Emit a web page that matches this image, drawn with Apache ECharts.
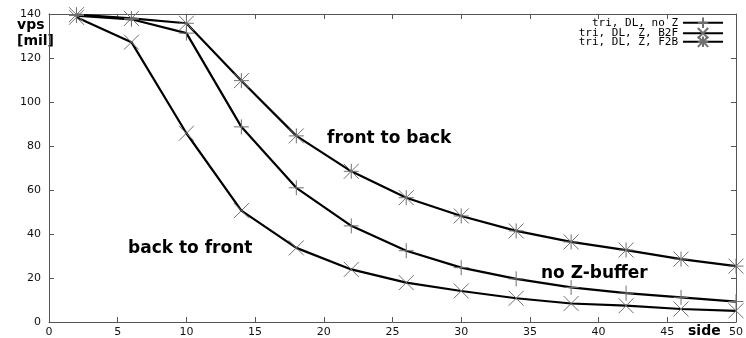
<!DOCTYPE html>
<html><head><meta charset="utf-8">
<script src="https://cdn.jsdelivr.net/npm/echarts@6/dist/echarts.min.js"></script>
<style>html,body{margin:0;padding:0;background:#fff}#c{width:746px;height:338px}</style>
</head><body><div id="c"></div>
<script>
const sides = [2, 6, 10, 14, 18, 22, 26, 30, 34, 38, 42, 46, 50];
const noZ = [139.3, 137.6, 131.3, 88.7, 61.0, 43.7, 32.4, 24.7, 19.6, 15.7, 13.1, 11.2, 9.3];
const b2f = [138.5, 127.2, 85.8, 50.6, 33.7, 23.9, 17.9, 14.1, 10.8, 8.4, 7.4, 5.9, 5.1];
const f2b = [139.7, 138.0, 135.8, 109.7, 84.6, 68.5, 56.5, 48.2, 41.4, 36.4, 32.7, 28.6, 25.4];
const seriesNames = ['tri, DL, no Z', 'tri, DL, Z, B2F', 'tri, DL, Z, F2B'];
const xTicks = [0, 5, 10, 15, 20, 25, 30, 35, 40, 45, 50];
const yTicks = [0, 20, 40, 60, 80, 100, 120, 140];

const PLUS = 'path://M0,5L10,5M5,0L5,10';
const CROSS = 'path://M0,0L10,10M10,0L0,10';
const STAR = 'path://M0,5L10,5M5,0L5,10M0,0L10,10M10,0L0,10';

const chart = echarts.init(document.getElementById('c'), null, {renderer: 'canvas'});
const tickFont = {fontFamily: 'DejaVu Sans', fontSize: 11, color: '#111'};
function mk(name, data, sym) {
  return {
    name: name, type: 'line', data: sides.map((s, i) => [s, data[i]]),
    symbol: sym, symbolSize: 15, showSymbol: true,
    lineStyle: {color: '#000', width: 2.2},
    itemStyle: {color: 'none', borderColor: '#707070', borderWidth: 1},
    emphasis: {disabled: true}, animation: false, z: 2
  };
}
function leg(i, top) {
  return {
    orient: 'vertical', right: 22, top: top, align: 'right', padding: 0,
    itemWidth: 40, itemHeight: 13, itemGap: 0, selectedMode: false,
    textStyle: {fontFamily: 'DejaVu Sans Mono', fontSize: 11, color: '#000', lineHeight: 10, padding: [0, 0, 0, 0]},
    data: [seriesNames[i]]
  };
}
const BOLD = '"DejaVu Sans"';
chart.setOption({
  animation: false,
  grid: {left: 49, right: 8, top: 14, bottom: 14, containLabel: false},
  legend: [leg(0, 15), leg(1, 25.5), leg(2, 34)],
  xAxis: [{
    type: 'value', min: 0, max: 50, interval: 5, position: 'bottom',
    axisLine: {onZero: false, lineStyle: {color: '#555', width: 1}},
    axisTick: {inside: true, length: 5, lineStyle: {color: '#555'}},
    axisLabel: Object.assign({margin: 5, formatter: v => xTicks.includes(v) ? String(v) : ''}, tickFont),
    splitLine: {show: false}
  }, {
    type: 'value', min: 0, max: 50, interval: 5, position: 'top',
    axisLine: {onZero: false, lineStyle: {color: '#555', width: 1}},
    axisTick: {inside: true, length: 5, lineStyle: {color: '#555'}},
    axisLabel: {show: false}, splitLine: {show: false}
  }],
  yAxis: [{
    type: 'value', min: 0, max: 140, interval: 20, position: 'left',
    axisLine: {show: true, onZero: false, lineStyle: {color: '#555', width: 1}},
    axisTick: {show: true, inside: true, length: 5, lineStyle: {color: '#555'}},
    axisLabel: Object.assign({margin: 8, formatter: v => yTicks.includes(v) ? String(v) : ''}, tickFont),
    splitLine: {show: false}
  }, {
    type: 'value', min: 0, max: 140, interval: 20, position: 'right',
    axisLine: {show: true, onZero: false, lineStyle: {color: '#555', width: 1}},
    axisTick: {show: true, inside: true, length: 5, lineStyle: {color: '#555'}},
    axisLabel: {show: false}, splitLine: {show: false}
  }],
  series: [mk(seriesNames[0], noZ, PLUS), mk(seriesNames[1], b2f, CROSS), mk(seriesNames[2], f2b, STAR)],
  graphic: [
    {type: 'text', left: 17, top: 18, style: {text: 'vps', font: 'bold 14px ' + BOLD, fill: '#000'}},
    {type: 'text', left: 17, top: 34, style: {text: '[mil]', font: 'bold 14px ' + BOLD, fill: '#000'}},
    {type: 'text', left: 688, top: 324, style: {text: 'side', font: 'bold 14px ' + BOLD, fill: '#000'}},
    {type: 'text', left: 327, top: 130, style: {text: 'front to back', font: 'bold 17px ' + BOLD, fill: '#000'}},
    {type: 'text', left: 128, top: 240, style: {text: 'back to front', font: 'bold 17px ' + BOLD, fill: '#000'}},
    {type: 'text', left: 541, top: 265, style: {text: 'no Z-buffer', font: 'bold 17px ' + BOLD, fill: '#000'}}
  ]
});
</script></body></html>
